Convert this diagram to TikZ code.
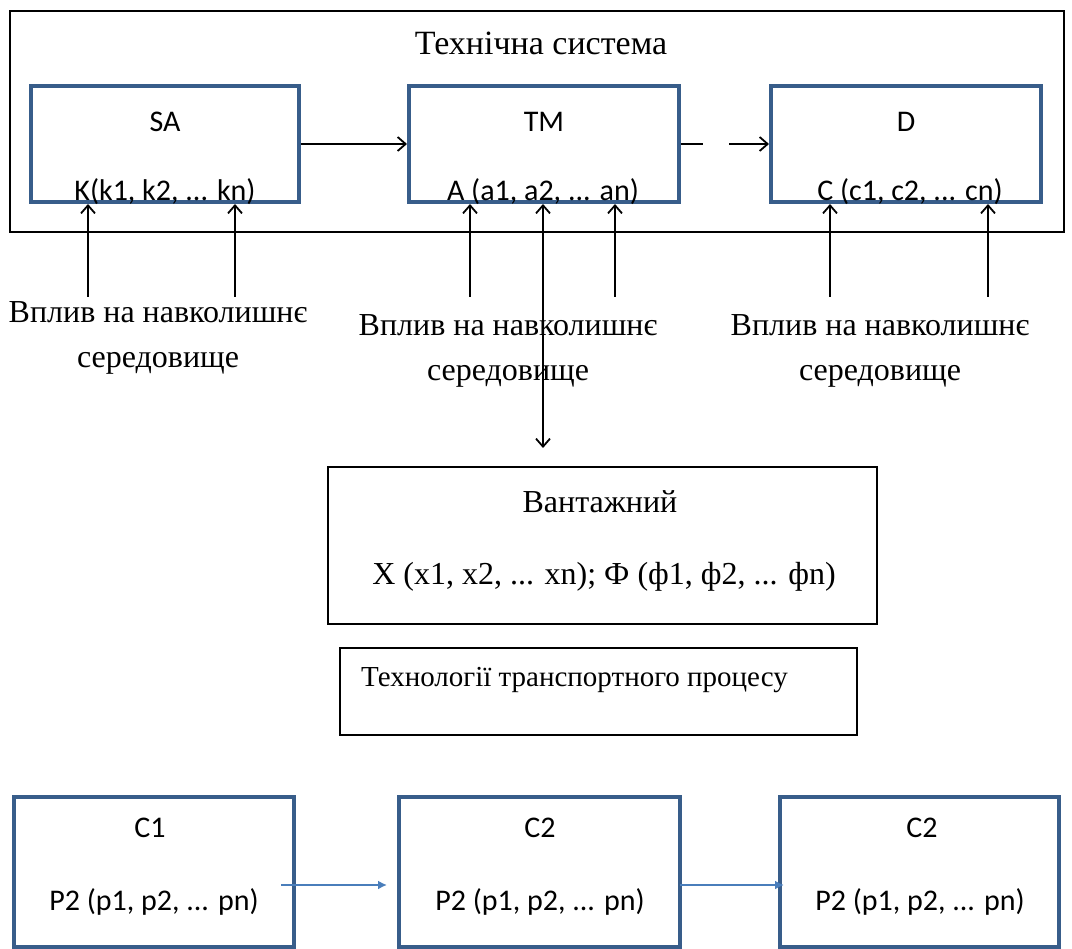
\documentclass[tikz,border=0pt]{standalone}
\usepackage{fontspec}
\setmainfont{Liberation Serif}
\newfontfamily\calibri{Carlito}
\usetikzlibrary{arrows.meta,positioning,calc}
\definecolor{BoxBlue}{HTML}{385D8A}
\definecolor{LinkBlue}{HTML}{4A7EBB}

\begin{document}
\begin{tikzpicture}[x=1pt,y=-1pt,
  unit/.style={draw=BoxBlue,line width=4pt,inner sep=0pt},
  frame/.style={draw=black,line width=1.8pt,inner sep=0pt},
  serif/.style={font=\fontsize{32}{45}\selectfont,inner sep=0pt,align=center},
  sans/.style={font=\calibri\fontsize{30}{36}\selectfont,inner sep=0pt},
  arrow/.style={-{Straight Barb[length=8pt,width=14pt]},line width=1.8pt},
  link/.style={-{Latex[length=9pt,width=9pt]},draw=LinkBlue,line width=2pt}
]
\useasboundingbox (0,0) rectangle (1072,949);

% technical system
\node[frame,minimum width=1054pt,minimum height=221pt] (system) at (537,121.5) {};
\node[serif,font=\fontsize{34}{40}\selectfont] (systitle) at (541,43) {Технічна система};

\node[unit,minimum width=268pt,minimum height=116pt] (SA) at (165,144) {};
\node[unit,minimum width=270pt,minimum height=116pt] (TM) at (544,144) {};
\node[unit,minimum width=270pt,minimum height=116pt] (D) at (906,144) {};

\node[sans] (SAname) at (165,122) {SA};
\node[sans] (TMname) at (544,122) {TM};
\node[sans] (Dname) at (906,122) {D};
\node[sans] (SAset) at (165,192) {K(k1, k2, ... kn)};
\node[sans] (TMset) at (543,192) {A (a1, a2, ... an)};
\node[sans] (Dset) at (910,192) {C (c1, c2, ... cn)};

\draw[arrow] (SA.east) -- (TM.west);
\draw[arrow,dash pattern=on 22pt off 26pt on 80pt off 10pt] (TM.east) -- (D.west);

% environment impact
\coordinate (k1) at (88,297);
\coordinate (kn) at (235,297);
\coordinate (a1) at (470,297);
\coordinate (an) at (615,297);
\coordinate (c1) at (830,297);
\coordinate (cn) at (988,297);
\coordinate (load) at (543,448);

\foreach \p/\b in {k1/SA,kn/SA,a1/TM,an/TM,c1/D,cn/D}
  \draw[arrow] (\p) -- (\p |- \b.south);
\draw[arrow,{Straight Barb[length=8pt,width=14pt]}-{Straight Barb[length=8pt,width=14pt]}] (load |- TM.south) -- (load);

\node[serif] (envSA) at (158,338) {Вплив на навколишнє\\середовище};
\node[serif] (envTM) at (508,351) {Вплив на навколишнє\\середовище};
\node[serif] (envD) at (880,351) {Вплив на навколишнє\\середовище};

% cargo and technology
\node[frame,minimum width=549pt,minimum height=157pt] (cargo) at (602.5,545.5) {};
\node[serif] (cargoname) at (600,502) {Вантажний};
\node[serif] (cargoset) at (604,577) {X (x1, x2, ... xn); Ф (ф1, ф2, ... фn)};

\node[frame,minimum width=517pt,minimum height=87pt] (tech) at (598.5,691.5) {};
\node[serif,anchor=west,font=\fontsize{29}{34}\selectfont] (techname) at (361,680) {Технології транспортного процесу};

% stages
\node[unit,minimum width=280pt,minimum height=150pt] (C1) at (154,872) {};
\node[unit,minimum width=281pt,minimum height=150pt] (C2) at (539.5,872) {};
\node[unit,minimum width=279pt,minimum height=150pt] (C3) at (919.5,872) {};

\node[sans] (C1name) at (150,828) {C1};
\node[sans] (C2name) at (540,828) {C2};
\node[sans] (C3name) at (922,828) {C2};
\node[sans] (C1set) at (154,902) {P2 (p1, p2, ... pn)};
\node[sans] (C2set) at (540,902) {P2 (p1, p2, ... pn)};
\node[sans] (C3set) at (920,902) {P2 (p1, p2, ... pn)};

\draw[link] ($(C1.east)+(-15,13)$) -- ($(C2.west)+(-10,13)$);
\draw[link] ($(C2.east)+(-2,13)$) -- ($(C3.west)+(6,13)$);
\end{tikzpicture}
\end{document}
